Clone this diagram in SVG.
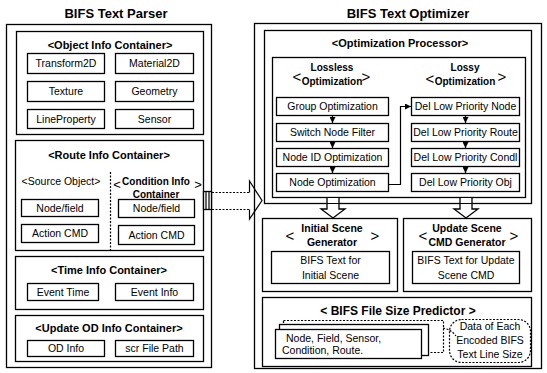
<svg xmlns="http://www.w3.org/2000/svg" width="547" height="373" viewBox="0 0 547 373">
  <style>
    .box { fill: #fff; stroke: #000; stroke-width: 1.3; }
    .frame { fill: none; stroke: #000; stroke-width: 1.3; }
    .dash { fill: none; stroke: #000; stroke-width: 1.2; stroke-dasharray: 2 1.5; }
    .ttl { font-family: "Liberation Sans", Arial, sans-serif; font-size: 13px; font-weight: bold; text-anchor: middle; fill: #000; }
    .hd { font-family: "Liberation Sans", Arial, sans-serif; font-size: 11px; font-weight: bold; text-anchor: middle; fill: #000; }
    .sub { font-family: "Liberation Sans", Arial, sans-serif; font-size: 10px; font-weight: bold; text-anchor: middle; fill: #000; }
    .gen { font-family: "Liberation Sans", Arial, sans-serif; font-size: 10.5px; font-weight: bold; text-anchor: middle; fill: #000; }
    .lb { font-family: "Liberation Sans", Arial, sans-serif; font-size: 10.5px; text-anchor: middle; fill: #000; }
    .lt { font-family: "Liberation Sans", Arial, sans-serif; font-size: 10.5px; fill: #000; }
    .br { font-family: "Liberation Sans", Arial, sans-serif; font-size: 15px; text-anchor: middle; fill: #000; }
    .ln { fill: none; stroke: #000; stroke-width: 1.2; }
  </style>
  <defs>
    <marker id="ah" viewBox="0 0 6 6" refX="6" refY="3" markerWidth="6" markerHeight="6" markerUnits="userSpaceOnUse" orient="auto">
      <path d="M0,0 L6,3 L0,6 Z" fill="#000"/>
    </marker>
  </defs>

  <rect width="547" height="373" fill="#fff"/>

  <!-- Parser panel -->
  <g id="parser">
    <text class="ttl" x="116" y="18">BIFS Text Parser</text>
    <rect class="frame" x="6.5" y="24.5" width="205" height="343"/>
  </g>

  <g id="object-info">
    <rect class="frame" x="16.5" y="31.5" width="187" height="103"/>
    <text class="hd" x="110" y="49">&lt;Object Info Container&gt;</text>
    <g id="transform2d"><rect class="box" x="27.5" y="53.5" width="77" height="20"/><text class="lb" x="66" y="67">Transform2D</text></g>
    <g id="material2d"><rect class="box" x="115.5" y="53.5" width="78" height="20"/><text class="lb" x="154.5" y="67">Material2D</text></g>
    <g id="texture"><rect class="box" x="27.5" y="81.5" width="77" height="20"/><text class="lb" x="66" y="95">Texture</text></g>
    <g id="geometry"><rect class="box" x="115.5" y="81.5" width="78" height="20"/><text class="lb" x="154.5" y="95">Geometry</text></g>
    <g id="lineproperty"><rect class="box" x="27.5" y="109.5" width="77" height="19"/><text class="lb" x="66" y="123">LineProperty</text></g>
    <g id="sensor"><rect class="box" x="115.5" y="109.5" width="78" height="19"/><text class="lb" x="154.5" y="123">Sensor</text></g>
  </g>

  <g id="route-info">
    <rect class="frame" x="15.5" y="140.5" width="188" height="110"/>
    <text class="hd" x="109" y="159">&lt;Route Info Container&gt;</text>
    <line class="dash" x1="110.5" y1="172" x2="110.5" y2="250"/>
    <text class="lb" x="61" y="185">&lt;Source Object&gt;</text>
    <text class="sub" x="156" y="185">Condition Info</text>
    <text class="sub" x="156" y="198">Container</text>
    <text class="br" x="117" y="189" style="font-size:13px">&lt;</text>
    <text class="br" x="198" y="189" style="font-size:13px">&gt;</text>
    <g id="src-nodefield"><rect class="box" x="21.5" y="199.5" width="77" height="17"/><text class="lb" x="60" y="212">Node/field</text></g>
    <g id="src-action"><rect class="box" x="21.5" y="224.5" width="77" height="18"/><text class="lb" x="60" y="237">Action CMD</text></g>
    <g id="cond-nodefield"><rect class="box" x="118.5" y="199.5" width="76" height="18"/><text class="lb" x="156.5" y="212">Node/field</text></g>
    <g id="cond-action"><rect class="box" x="118.5" y="225.5" width="76" height="19"/><text class="lb" x="156.5" y="239">Action CMD</text></g>
  </g>

  <g id="time-info">
    <rect class="frame" x="15.5" y="256.5" width="188" height="53"/>
    <text class="hd" x="109" y="274">&lt;Time Info Container&gt;</text>
    <g id="event-time"><rect class="box" x="27.5" y="283.5" width="71" height="17"/><text class="lb" x="63" y="296">Event Time</text></g>
    <g id="event-info"><rect class="box" x="115.5" y="283.5" width="78" height="17"/><text class="lb" x="154.5" y="296">Event Info</text></g>
  </g>

  <g id="update-od-info">
    <rect class="frame" x="15.5" y="315.5" width="188" height="46"/>
    <text class="hd" x="109" y="332">&lt;Update OD Info Container&gt;</text>
    <g id="od-info"><rect class="box" x="27.5" y="340.5" width="77" height="16"/><text class="lb" x="66" y="352">OD Info</text></g>
    <g id="scr-file-path"><rect class="box" x="115.5" y="340.5" width="78" height="16"/><text class="lb" x="154.5" y="352">scr File Path</text></g>
  </g>

  <!-- Optimizer panel -->
  <g id="optimizer">
    <text class="ttl" x="408" y="18">BIFS Text Optimizer</text>
    <rect class="frame" x="254.5" y="23.5" width="287" height="345"/>
  </g>

  <g id="optimization-processor">
    <rect class="frame" x="264.5" y="30.5" width="267" height="173"/>
    <text class="hd" x="400" y="47">&lt;Optimization Processor&gt;</text>
    <rect class="frame" x="272.5" y="57.5" width="253" height="140"/>
    <text class="sub" x="332" y="71">Lossless</text>
    <text class="sub" x="332" y="85">Optimization</text>
    <text class="br" x="297" y="82">&lt;</text>
    <text class="br" x="366" y="82">&gt;</text>
    <text class="sub" x="465" y="71">Lossy</text>
    <text class="sub" x="465" y="85">Optimization</text>
    <text class="br" x="430" y="84">&lt;</text>
    <text class="br" x="502" y="82">&gt;</text>
    <g id="group-opt"><rect class="box" x="276.5" y="97.5" width="112" height="18"/><text class="lb" x="332.5" y="110">Group Optimization</text></g>
    <g id="switch-filter"><rect class="box" x="276.5" y="123.5" width="112" height="18"/><text class="lb" x="332.5" y="136">Switch Node Filter</text></g>
    <g id="nodeid-opt"><rect class="box" x="276.5" y="148.5" width="112" height="18"/><text class="lb" x="332.5" y="161">Node ID Optimization</text></g>
    <g id="node-opt"><rect class="box" x="276.5" y="173.5" width="112" height="18"/><text class="lb" x="332.5" y="186">Node Optimization</text></g>
    <g id="del-node"><rect class="box" x="411.5" y="97.5" width="108" height="18"/><text class="lb" x="465.5" y="110">Del Low Priority Node</text></g>
    <g id="del-route"><rect class="box" x="411.5" y="123.5" width="108" height="18"/><text class="lb" x="465.5" y="136">Del Low Priority Route</text></g>
    <g id="del-cond"><rect class="box" x="411.5" y="148.5" width="108" height="18"/><text class="lb" x="465.5" y="161">Del Low Priority Condl</text></g>
    <g id="del-obj"><rect class="box" x="411.5" y="173.5" width="108" height="18"/><text class="lb" x="465.5" y="186">Del Low Priority Obj</text></g>
  </g>

  <g id="initial-scene-generator">
    <rect class="frame" x="262.5" y="218.5" width="135" height="73"/>
    <text class="gen" x="332" y="232">Initial Scene</text>
    <text class="gen" x="332" y="246">Generator</text>
    <text class="br" x="290" y="241">&lt;</text>
    <text class="br" x="375" y="241">&gt;</text>
    <rect class="box" x="271.5" y="251.5" width="118" height="32"/>
    <text class="lb" x="330.5" y="264">BIFS Text for</text>
    <text class="lb" x="330.5" y="279">Initial Scene</text>
  </g>

  <g id="update-scene-generator">
    <rect class="frame" x="403.5" y="218.5" width="128" height="73"/>
    <text class="gen" x="467" y="232">Update Scene</text>
    <text class="gen" x="467" y="246">CMD Generator</text>
    <text class="br" x="423" y="241">&lt;</text>
    <text class="br" x="514" y="241">&gt;</text>
    <rect class="box" x="412.5" y="251.5" width="107" height="32"/>
    <text class="lb" x="466" y="264">BIFS Text for Update</text>
    <text class="lb" x="466" y="279">Scene CMD</text>
  </g>

  <g id="file-size-predictor">
    <rect class="frame" x="262.5" y="297.5" width="269" height="69"/>
    <text class="hd" x="398" y="315" style="font-size:12px">&lt; BIFS File Size Predictor &gt;</text>
    <!-- stacked record sheets -->
    <rect class="dash" x="283.5" y="320.5" width="160" height="32"/>
    <rect class="box" x="279.5" y="324.5" width="149" height="31"/>
    <rect class="box" x="275.5" y="329.5" width="146" height="29"/>
    <text class="lt" x="286" y="342">Node, Field, Sensor,</text>
    <text class="lt" x="282" y="354">Condition, Route.</text>
    <!-- callout -->
    <path class="dash" d="M443,328 Q452,330 456,336"/>
    <rect class="dash" x="449.5" y="319.5" width="81" height="43" rx="12"/>
    <text class="lb" x="490" y="330">Data of Each</text>
    <text class="lb" x="490" y="344">Encoded BIFS</text>
    <text class="lb" x="490" y="358">Text Line Size</text>
  </g>

  <!-- connectors -->
  <g id="connectors">
    <line class="ln" x1="332.5" y1="115.5" x2="332.5" y2="123" marker-end="url(#ah)"/>
    <line class="ln" x1="332.5" y1="141.5" x2="332.5" y2="148" marker-end="url(#ah)"/>
    <line class="ln" x1="332.5" y1="166.5" x2="332.5" y2="173" marker-end="url(#ah)"/>
    <line class="ln" x1="465.5" y1="115.5" x2="465.5" y2="123" marker-end="url(#ah)"/>
    <line class="ln" x1="465.5" y1="141.5" x2="465.5" y2="148" marker-end="url(#ah)"/>
    <line class="ln" x1="465.5" y1="166.5" x2="465.5" y2="173" marker-end="url(#ah)"/>
    <path class="ln" d="M388.5,184.5 H400.5 V106.5 H411" marker-end="url(#ah)"/>
    <!-- hollow block arrows down to the generators -->
    <path class="box" d="M327,198 V209 H321 L333,218 L345,209 H339 V198"/>
    <path class="box" d="M460,198 V209 H454 L466,218 L478,209 H472 V198"/>
    <line class="ln" x1="272" y1="197.5" x2="526" y2="197.5"/>
    <line class="ln" x1="264" y1="203.5" x2="532" y2="203.5"/>
    <!-- parser to optimizer block arrow -->
    <rect class="box" x="203.5" y="191.5" width="8" height="18"/>
    <line class="ln" x1="206" y1="192" x2="206" y2="209" stroke-width="0.8"/>
    <line class="ln" x1="209" y1="192" x2="209" y2="209" stroke-width="0.8"/>
    <path class="dash" d="M212,192.5 H249.5 M212,209.5 H249.5"/>
    <path class="ln" d="M249.5,192.5 V181 L262,200.5 L249.5,219 V209.5"/>
  </g>
</svg>
